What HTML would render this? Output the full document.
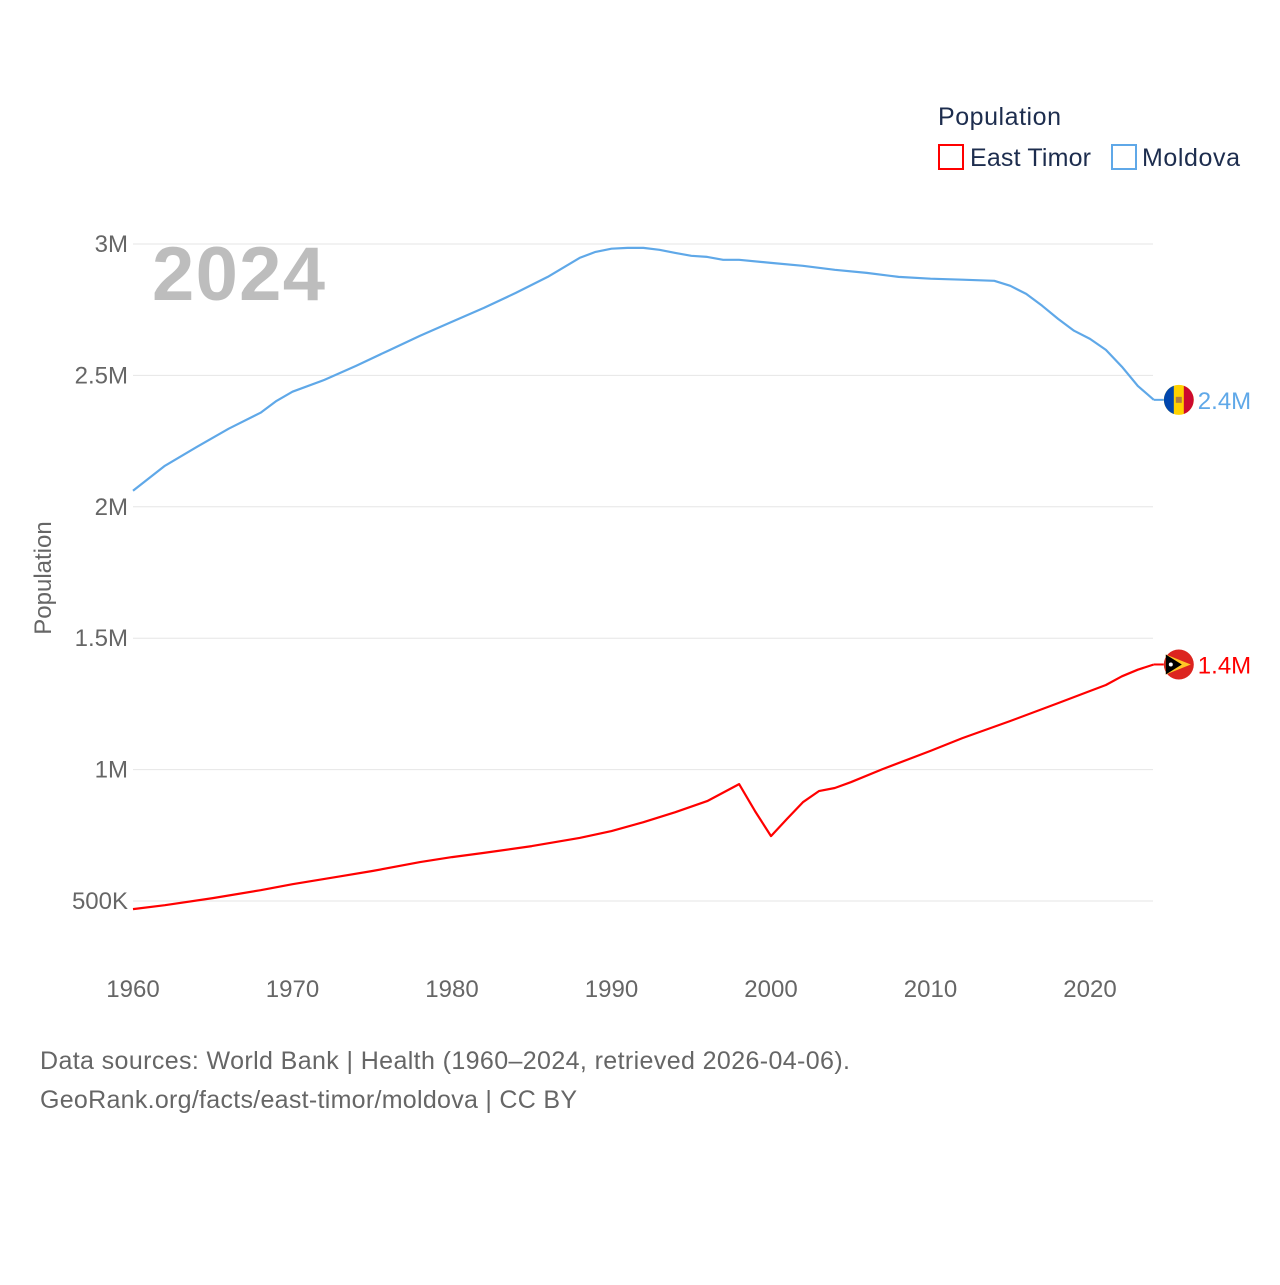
<!DOCTYPE html>
<html><head><meta charset="utf-8"><style>
body{margin:0;background:#fff;font-family:"Liberation Sans",sans-serif}
svg text{font-family:"Liberation Sans",sans-serif}
</style></head><body>
<svg id="chart" width="1280" height="1280" viewBox="0 0 1280 1280">
<text x="938" y="125" font-size="25" fill="#1d2d4e" textLength="123">Population</text>
<g><rect x="939" y="145" width="24" height="24" fill="none" stroke="#ff0000" stroke-width="2"/><text x="970" y="166" font-size="25" fill="#1d2d4e" textLength="121">East Timor</text></g>
<g><rect x="1112" y="145" width="24" height="24" fill="none" stroke="#5fa8e8" stroke-width="2"/><text x="1142" y="166" font-size="25" fill="#1d2d4e" textLength="98">Moldova</text></g>
<text x="152" y="300" font-size="76" font-weight="bold" fill="#bdbdbd" textLength="173">2024</text>
<g id="grid"></g><g id="xt"></g><g id="lines"></g>
<text transform="translate(51,578) rotate(-90)" text-anchor="middle" font-size="24" fill="#666">Population</text>
<text x="40" y="1069" font-size="25" fill="#666" textLength="810">Data sources: World Bank | Health (1960–2024, retrieved 2026-04-06).</text>
<text x="40" y="1108" font-size="25" fill="#666" textLength="537">GeoRank.org/facts/east-timor/moldova | CC BY</text>
</svg>
<script>
const yTicks=[500000,1000000,1500000,2000000,2500000,3000000];
const yTickLabels=["500K","1M","1.5M","2M","2.5M","3M"];
const xTicks=[1960,1970,1980,1990,2000,2010,2020];
const mdYears=[1960,1962,1964,1966,1968,1969,1970,1972,1974,1976,1978,1980,1982,1984,1986,1988,1989,1990,1991,1992,1993,1994,1995,1996,1997,1998,2000,2002,2004,2006,2008,2010,2012,2014,2015,2016,2017,2018,2019,2020,2021,2022,2023,2024];
const mdValues=[2.061,2.156,2.228,2.297,2.358,2.403,2.438,2.483,2.537,2.594,2.651,2.704,2.757,2.814,2.875,2.947,2.970,2.982,2.985,2.985,2.978,2.966,2.955,2.951,2.940,2.940,2.928,2.917,2.902,2.890,2.875,2.868,2.864,2.860,2.841,2.810,2.765,2.715,2.670,2.639,2.597,2.533,2.460,2.407];
const etYears=[1960,1962,1965,1968,1970,1973,1975,1978,1980,1982,1985,1988,1990,1992,1994,1996,1998,1999,2000,2001,2002,2003,2004,2005,2007,2010,2012,2015,2018,2020,2021,2022,2023,2024];
const etValues=[0.469,0.484,0.511,0.541,0.564,0.594,0.614,0.648,0.667,0.683,0.709,0.740,0.766,0.800,0.838,0.880,0.945,0.842,0.747,0.812,0.876,0.918,0.930,0.952,1.002,1.071,1.120,1.185,1.253,1.299,1.322,1.355,1.380,1.400];
const NS="http://www.w3.org/2000/svg";
const x=yr=>133+(yr-1960)*15.95;
const y=v=>901-(v-500000)/500000*131.4;
function mk(t,a,p){const e=document.createElementNS(NS,t);for(const k in a)e.setAttribute(k,a[k]);p.appendChild(e);return e;}
const grid=document.getElementById('grid');
yTicks.forEach((v,i)=>{
 const l=mk('line',{x1:133,x2:1153,y1:y(v),y2:y(v),stroke:'#e6e6e6','stroke-width':1},grid);
 
 
 const t=mk('text',{x:128,y:y(v)+8,'text-anchor':'end','font-size':24,fill:'#666'},grid);
 t.textContent=yTickLabels[i];
 
 
});
const xt=document.getElementById('xt');
xTicks.forEach(v=>{
 const t=mk('text',{x:x(v),y:997,'text-anchor':'middle','font-size':24,fill:'#666'},xt);
 t.textContent=v;
 
 
});
const lines=document.getElementById('lines');
function series(yrs,vals,col,name,lab){
 const d=yrs.map((yr,i)=>(i?'L':'M')+x(yr).toFixed(1)+','+y(vals[i]*1e6).toFixed(1)).join('');
 const p=mk('path',{d:d,fill:'none',stroke:col,'stroke-width':2.2,'stroke-linejoin':'round'},lines);
 
 
 const ly=y(vals[vals.length-1]*1e6),lx=x(yrs[yrs.length-1]);
 mk('line',{x1:lx,x2:lx+10,y1:ly,y2:ly,stroke:col,'stroke-width':2},lines);
 const c=mk('circle',{cx:lx+25,cy:ly,r:15,fill:name==='moldova'?'#ffd200':'#dc241f'},lines);
 
 
 if(name==='moldova'){
  mk('path',{d:`M${lx+25-5},${ly-14.1}A15,15 0 0 0 ${lx+25-5},${ly+14.1}Z`,fill:'#0046ae'},lines);
  mk('path',{d:`M${lx+25+5},${ly-14.1}A15,15 0 0 1 ${lx+25+5},${ly+14.1}Z`,fill:'#cc092f'},lines);
  mk('rect',{x:lx+22,y:ly-3,width:6,height:6,fill:'#b07e3f'},lines);
 } else {
  mk('path',{d:`M${lx+12},${ly-10}L${lx+37},${ly}L${lx+12},${ly+10}Z`,fill:'#ffc726'},lines);
  mk('path',{d:`M${lx+12},${ly-10}L${lx+28},${ly}L${lx+12},${ly+10}Z`,fill:'#000'},lines);
  mk('circle',{cx:lx+17,cy:ly,r:2,fill:'#fff'},lines);
 }
 const t=mk('text',{x:lx+44,y:ly+9,'font-size':24,fill:col},lines);
 t.textContent=lab;
 
 
}
series(mdYears,mdValues,'#5fa8e8','moldova','2.4M');
series(etYears,etValues,'#ff0000','east-timor','1.4M');
</script>
</body></html>
